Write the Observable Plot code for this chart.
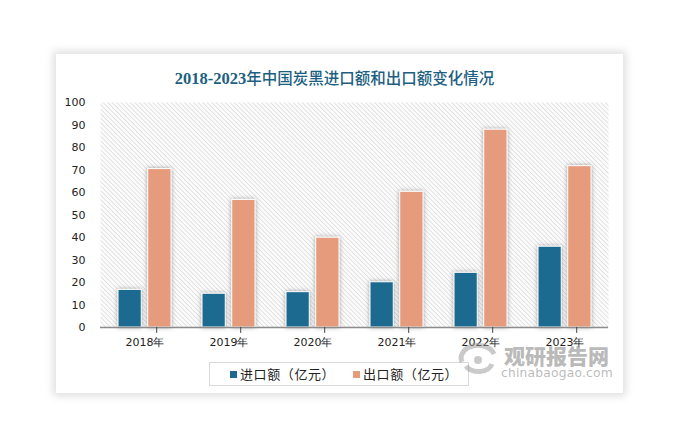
<!DOCTYPE html>
<html>
<head>
<meta charset="utf-8">
<script src="https://cdn.jsdelivr.net/npm/d3@7"></script>
<script src="https://cdn.jsdelivr.net/npm/@observablehq/plot@0.6"></script>
<style>
  html, body { margin: 0; padding: 0; background: #fff; }
  #page { position: relative; width: 673px; height: 447px; overflow: hidden; background: #fff; }
  #card { position: absolute; left: 56px; top: 54px; width: 567px; height: 339px; background: #fff;
          box-shadow: 0 0 8px 3px rgba(0,0,0,0.13); }
  #title { position: absolute; left: 46px; width: 577px; top: 66px; text-align: center; line-height: 22px;
           font-family: "Noto Sans CJK SC", sans-serif; font-weight: 500; font-size: 15.5px; color: #1d5f82; }
  #title b { font-family: "Liberation Serif", serif; font-weight: bold; font-size: 16.5px; }
  #chart { position: absolute; left: 0; top: 0; }
  #legend { position: absolute; left: 209px; top: 362px; width: 260px; height: 24px; border: 1px solid #d9d9d9;
            box-sizing: border-box; font-family: "Noto Sans CJK SC", sans-serif; font-size: 13px; color: #222; }
  .li { position: absolute; top: 2px; line-height: 18px; white-space: nowrap; letter-spacing: 0.6px; }
  .sw { display: inline-block; width: 7px; height: 7px; margin-right: 3px; vertical-align: 1px; }
  #wm1 { position: absolute; left: 504px; top: 341px; font-family: "Noto Sans CJK SC", sans-serif; font-weight: 900;
         font-size: 21px; line-height: 28px; color: rgba(140,140,140,0.62); }
  #wm2 { position: absolute; left: 501px; top: 365px; font-family: "DejaVu Sans", sans-serif; line-height: 16px;
         font-size: 12.3px; color: rgba(140,140,140,0.6); letter-spacing: 0.2px; }
  #logo { position: absolute; left: 456px; top: 340px; }
</style>
</head>
<body>
<div id="page">
  <div id="card"></div>
  <div id="chart"></div>
  <div id="title"></div>
  <div id="legend"></div>
  <svg id="logo" width="44" height="40" viewBox="0 0 44 40">
    <path d="M6 22 A16 12 0 0 1 38 14" fill="none" stroke="rgba(150,150,150,0.5)" stroke-width="5"/>
    <path d="M10 26 A14 10 0 0 0 36 24" fill="none" stroke="rgba(150,150,150,0.5)" stroke-width="5"/>
    <circle cx="22" cy="20" r="4" fill="rgba(150,150,150,0.5)"/>
  </svg>
  <div id="wm1">观研报告网</div>
  <div id="wm2">chinabaogao.com</div>
</div>
<script>
const years = ["2018", "2019", "2020", "2021", "2022", "2023"];
const importValues = [16.7, 15.0, 15.7, 20.1, 24.3, 35.9];
const exportValues = [70.4, 56.7, 39.9, 60.3, 87.9, 71.7];
const seriesNames = ["进口额（亿元）", "出口额（亿元）"];
const seriesColors = ["#1c6b8f", "#e69b7b"];
const yTicks = [0, 10, 20, 30, 40, 50, 60, 70, 80, 90, 100];
const titleYears = "2018-2023";
const titleText = "年中国炭黑进口额和出口额变化情况";
const yearSuffix = "年";

const titleEl = document.getElementById("title");
const tb = document.createElement("b");
tb.textContent = titleYears;
titleEl.appendChild(tb);
titleEl.appendChild(document.createTextNode(titleText));

const rows = [];
years.forEach((y, i) => {
  rows.push({year: y, series: seriesNames[0], value: importValues[i], k: 0});
  rows.push({year: y, series: seriesNames[1], value: exportValues[i], k: 1});
});

const W = 673, H = 447;
const mL = 100, mR = 65, mT = 102, mB = 120;
const step = (W - mL - mR) / years.length;
const bw = step * (1 - 0.37);
const barW = 23.6;
const inset = bw - barW;

const chart = Plot.plot({
  width: W,
  height: H,
  marginLeft: mL,
  marginRight: mR,
  marginTop: mT,
  marginBottom: mB,
  style: {background: "transparent", fontFamily: "DejaVu Sans, sans-serif", fontSize: "11px", color: "#222"},
  x: {domain: years, paddingInner: 0.37, paddingOuter: 0.185, tickSize: 0, tickPadding: 11,
      tickFormat: d => d + yearSuffix, label: null},
  y: {domain: [0, 100], ticks: yTicks, tickSize: 0, tickPadding: 15, label: null},
  color: {domain: seriesNames, range: seriesColors},
  marks: [
    Plot.frame({fill: "url(#hatch)", stroke: "none"}),
    Plot.barY(rows.filter(d => d.k === 0), {x: "year", y: "value", fill: "series", stroke: "white", strokeWidth: 1, insetRight: inset}),
    Plot.barY(rows.filter(d => d.k === 1), {x: "year", y: "value", fill: "series", stroke: "white", strokeWidth: 1, insetLeft: inset}),
    Plot.ruleY([0], {stroke: "#8c8c8c", strokeWidth: 1.5}),
    Plot.ruleX(years, {x: d => d, y1: 0, y2: -2.6, dx: 11.7, stroke: "#444", strokeWidth: 1})
  ]
});

const svg = d3.select(chart);
const defs = svg.insert("defs", ":first-child");
const pat = defs.append("pattern").attr("id", "hatch").attr("patternUnits", "userSpaceOnUse")
  .attr("width", 3.2).attr("height", 3.2).attr("patternTransform", "rotate(-45)");
pat.append("rect").attr("width", 3.2).attr("height", 3.2).attr("fill", "#fbfbfb");
pat.append("line").attr("x1", 0).attr("y1", 0).attr("x2", 0).attr("y2", 3.2)
  .attr("stroke", "#d2d2d2").attr("stroke-width", 1.1);
const f = defs.append("filter").attr("id", "shadow").attr("x", "-30%").attr("y", "-30%").attr("width", "160%").attr("height", "160%");
f.append("feDropShadow").attr("dx", 0).attr("dy", 0).attr("stdDeviation", 2.2)
  .attr("flood-color", "#555").attr("flood-opacity", 0.55);
svg.selectAll("g[aria-label='bar']").attr("filter", "url(#shadow)");

document.getElementById("chart").appendChild(chart);

const legend = document.getElementById("legend");
const pos = [20, 143];
seriesNames.forEach((s, i) => {
  const el = document.createElement("div");
  el.className = "li";
  el.style.left = pos[i] + "px";
  el.innerHTML = `<span class="sw" style="background:${seriesColors[i]}"></span>`;
  el.appendChild(document.createTextNode(s));
  legend.appendChild(el);
});
</script>
</body>
</html>
